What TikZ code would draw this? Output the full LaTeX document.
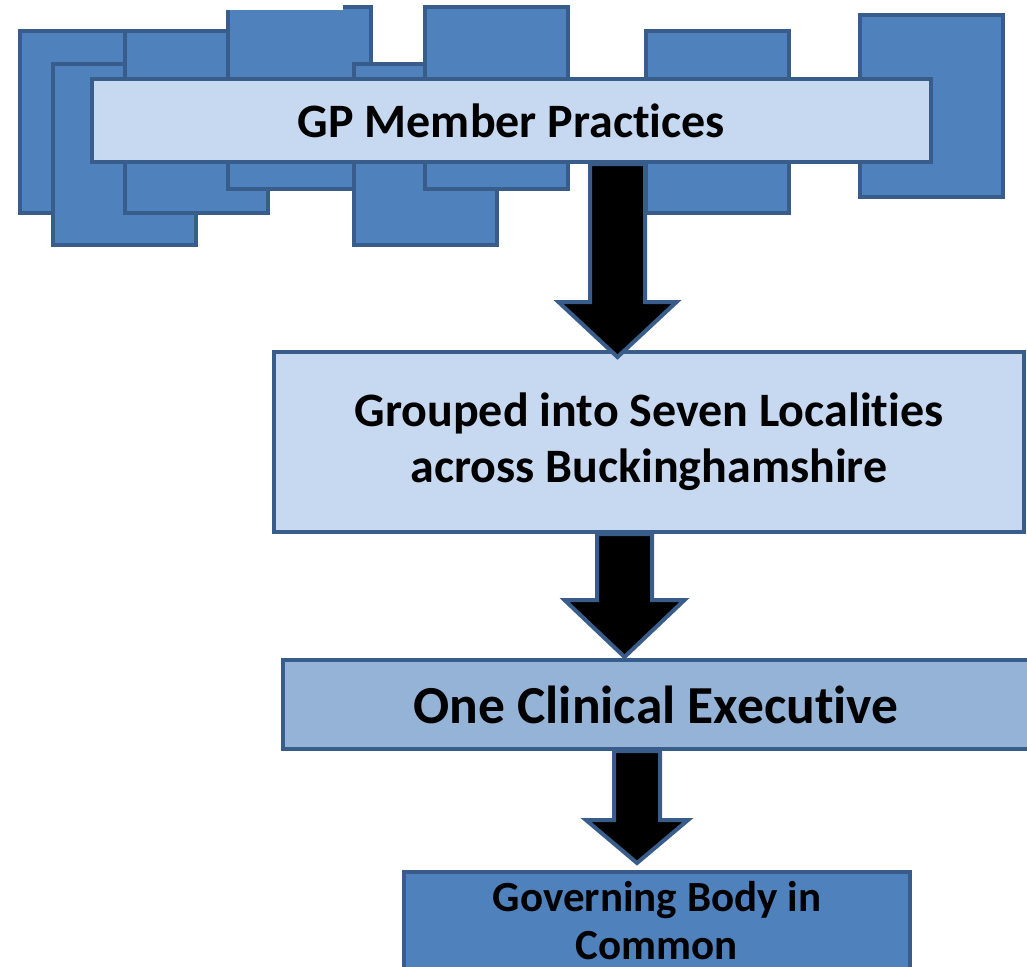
\documentclass[tikz,border=0pt]{standalone}
\usepackage{fontspec}
\setmainfont{Carlito}[Ligatures=NoCommon]
\usetikzlibrary{calc}
\definecolor{pracblue}{HTML}{4F81BD}
\definecolor{edge}{HTML}{385D8A}
\definecolor{paleblue}{HTML}{C6D9F1}
\definecolor{midblue}{HTML}{95B3D7}
\begin{document}
\begin{tikzpicture}[x=1pt,y=-1pt]
        \tikzstyle{practice} = [rectangle, draw=edge, fill=pracblue, line width=4pt, minimum width=143pt, minimum height=181pt, inner sep=0pt]
        \tikzstyle{block} = [rectangle, draw=edge, line width=4pt, text=black, text centered, inner sep=0pt]
        \tikzstyle{fatline} = [draw=edge, fill=black, line width=4pt, line join=miter]
        \useasboundingbox (0,0) rectangle (1027,966);
        \clip (0,0) rectangle (1027,966);
        % the stack of practices
        \node[practice] (pa) at (91,122) {};
        \node[practice] (pc) at (124,154.5) {};
        \node[practice] (pb) at (196,122) {};
        \node[practice] (pd) at (299.5,98) {};
        \fill[white] (224,0) rectangle (343,10.5);
        \node[practice] (pe) at (425.5,154.5) {};
        \node[practice] (pf) at (496,98) {};
        \node[practice] (pg) at (717.5,122) {};
        \node[practice] (ph) at (931,106) {};
        \node[block,fill=paleblue,minimum width=839pt,minimum height=83pt,font=\bfseries\fontsize{48}{55}\selectfont] (gp) at (511.5,120.5) {GP Member Practices};
        \node[block,fill=paleblue,minimum width=750pt,minimum height=180pt,align=center,font=\bfseries\fontsize{48}{56}\selectfont] (loc) at (649,442) {Grouped into Seven Localities\\across Buckinghamshire};
        \node[block,fill=midblue,minimum width=746pt,minimum height=89pt,font=\bfseries\fontsize{53.5}{60}\selectfont] (exec) at (656,704.5) {One Clinical Executive};
        \node[block,fill=pracblue,minimum width=506pt,minimum height=98pt,align=center,font=\bfseries\fontsize{43}{48}\selectfont] (gov) at (657,921) {Governing Body in\\Common};
        % arrow ends
        \coordinate (a1s) at ([xshift=106pt]gp.south);
        \coordinate (a1e) at ($(a1s |- loc.north)+(0,7)$);
        \coordinate (a2s) at ([xshift=-24.5pt]loc.south);
        \coordinate (a2e) at ($(a2s |- exec.north)+(0,-1)$);
        \coordinate (a3s) at ([xshift=-19pt]exec.south);
        \coordinate (a3e) at ($(a3s |- gov.north)+(0,-7)$);
        \draw[fatline] ([xshift=-27.5pt]a1s) -- ([xshift=27.5pt]a1s) -- ([xshift=27.5pt,yshift=55pt]a1e) -- ([xshift=59pt,yshift=55pt]a1e) -- (a1e) -- ([xshift=-59pt,yshift=55pt]a1e) -- ([xshift=-27.5pt,yshift=55pt]a1e) -- cycle;
        \draw[fatline] ([xshift=-27.5pt]a2s) -- ([xshift=27.5pt]a2s) -- ([xshift=27.5pt,yshift=57pt]a2e) -- ([xshift=60pt,yshift=57pt]a2e) -- (a2e) -- ([xshift=-60pt,yshift=57pt]a2e) -- ([xshift=-27.5pt,yshift=57pt]a2e) -- cycle;
        \draw[fatline] ([xshift=-23pt]a3s) -- ([xshift=23pt]a3s) -- ([xshift=23pt,yshift=43pt]a3e) -- ([xshift=51pt,yshift=43pt]a3e) -- (a3e) -- ([xshift=-51pt,yshift=43pt]a3e) -- ([xshift=-23pt,yshift=43pt]a3e) -- cycle;
    \end{tikzpicture}
\end{document}
